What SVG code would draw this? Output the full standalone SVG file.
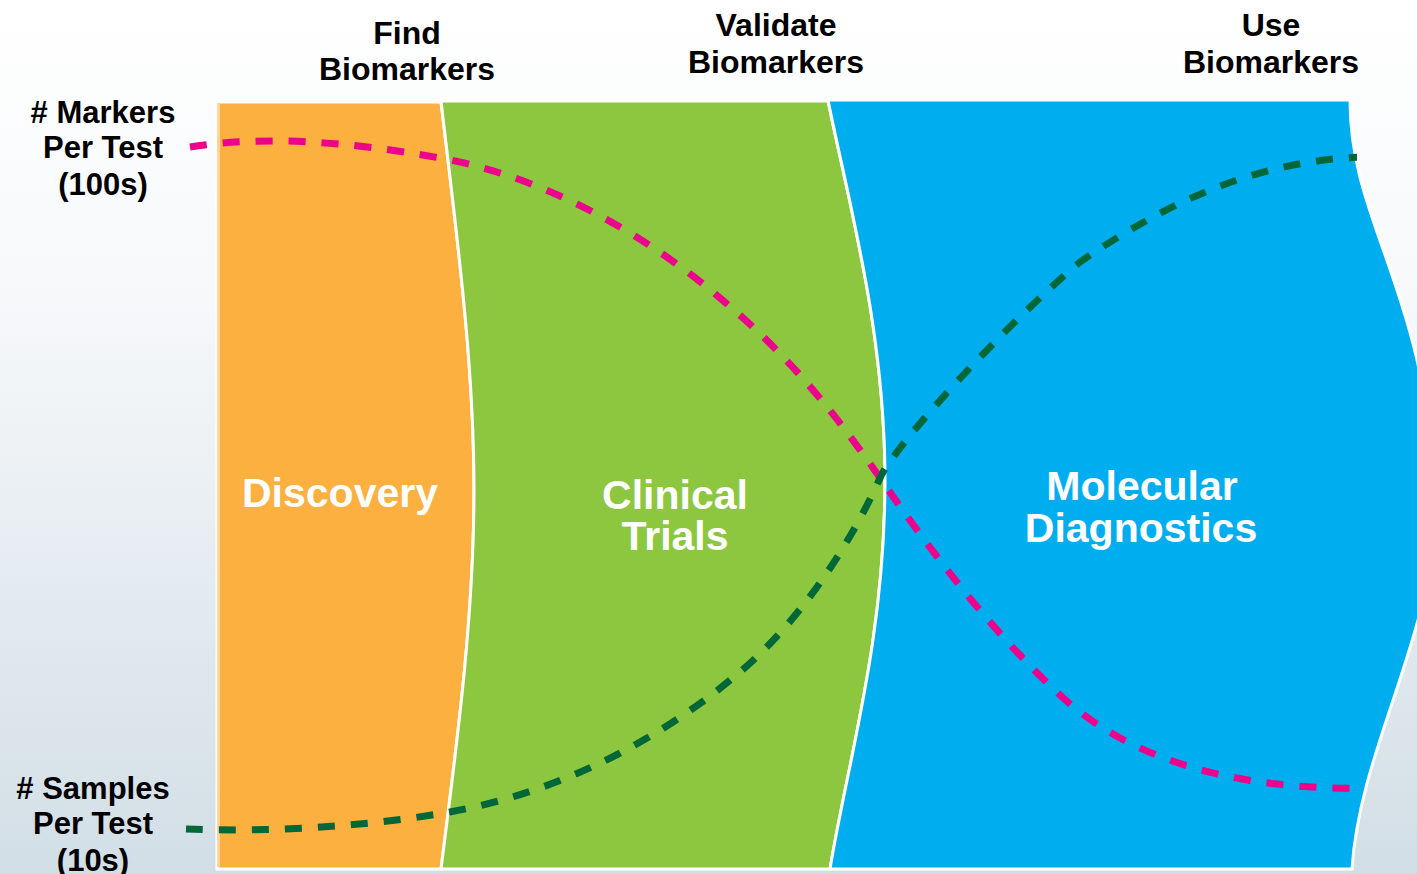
<svg xmlns="http://www.w3.org/2000/svg" width="1417" height="874" viewBox="0 0 1417 874">
  <defs>
    <linearGradient id="bg" x1="0" y1="0" x2="0" y2="1">
      <stop offset="0" stop-color="#ffffff"/>
      <stop offset="0.35" stop-color="#f6f8fa"/>
      <stop offset="1" stop-color="#d2dee6"/>
    </linearGradient>
    <clipPath id="stageClip">
      <rect x="0" y="0" width="1357" height="874"/>
    </clipPath>
  </defs>
  <style>
    .head { font-family: "Liberation Sans", Arial, sans-serif; font-weight: bold; font-size: 32px; fill: #000; text-anchor: middle; }
    .axis { font-family: "Liberation Sans", Arial, sans-serif; font-weight: bold; font-size: 31px; fill: #000; text-anchor: middle; }
    .stage { font-family: "Liberation Sans", Arial, sans-serif; font-weight: bold; font-size: 41px; fill: #fff; text-anchor: middle; }
    .panel { stroke: #fff; stroke-width: 3; }
    .curve { fill: none; stroke-width: 7; stroke-dasharray: 17 16; }
  </style>

  <rect x="0" y="0" width="1417" height="874" fill="url(#bg)"/>

  <!-- stage panels -->
  <g id="discovery">
    <path class="panel" fill="#fbb040" d="M217,102 L441,102 C456,230 474,360 474,490 C474,620 456,750 441,869 L217,869 Z"/>
    <line x1="218.5" y1="103" x2="218.5" y2="867" stroke="#fdd59c" stroke-width="3"/>
    <text class="stage" x="340" y="507">Discovery</text>
  </g>
  <g id="clinical-trials">
    <path class="panel" fill="#8dc63f" d="M441,101 L828,101 C848,200 885,330 885,480 C885,640 848,760 830,869 L441,869 C456,750 474,620 474,490 C474,360 456,230 441,101 Z"/>
    <text class="stage" x="675" y="509">Clinical</text>
    <text class="stage" x="675" y="550">Trials</text>
  </g>
  <g id="molecular-diagnostics">
    <path class="panel" fill="#00aeef" d="M828,100 L1350,100 C1350,220 1420,280 1435,480 C1445,620 1360,740 1352,869 L830,869 C848,760 885,640 885,480 C885,330 848,200 828,100 Z"/>
    <text class="stage" x="1142" y="500">Molecular</text>
    <text class="stage" x="1141" y="542">Diagnostics</text>
  </g>

  <!-- phase headings -->
  <g id="find-biomarkers">
    <text class="head" x="407" y="44">Find</text>
    <text class="head" x="407" y="80">Biomarkers</text>
  </g>
  <g id="validate-biomarkers">
    <text class="head" x="776" y="36">Validate</text>
    <text class="head" x="776" y="73">Biomarkers</text>
  </g>
  <g id="use-biomarkers">
    <text class="head" x="1271" y="36">Use</text>
    <text class="head" x="1271" y="73">Biomarkers</text>
  </g>

  <!-- axis labels -->
  <g id="markers-label">
    <text class="axis" x="103" y="123"># Markers</text>
    <text class="axis" x="103" y="158">Per Test</text>
    <text class="axis" x="103" y="195">(100s)</text>
  </g>
  <g id="samples-label">
    <text class="axis" x="93" y="799"># Samples</text>
    <text class="axis" x="93" y="834">Per Test</text>
    <text class="axis" x="93" y="871">(10s)</text>
  </g>

  <!-- trend curves -->
  <g id="connectors" clip-path="url(#stageClip)">
    <path id="markers-curve" class="curve" stroke="#ec008c"
          d="M190,147 C260,136 340,140 440,158 C540,176 640,230 720,298 C790,356 840,420 880,478 C930,550 990,630 1060,695 C1140,770 1260,790 1365,788"/>
    <path id="samples-curve" class="curve" stroke="#006838"
          d="M186,829 C260,832 360,828 450,812 C560,792 660,740 740,672 C800,621 850,545 880,478 C895,445 1005,325 1080,262 C1170,200 1260,160 1365,157"/>
  </g>
</svg>
